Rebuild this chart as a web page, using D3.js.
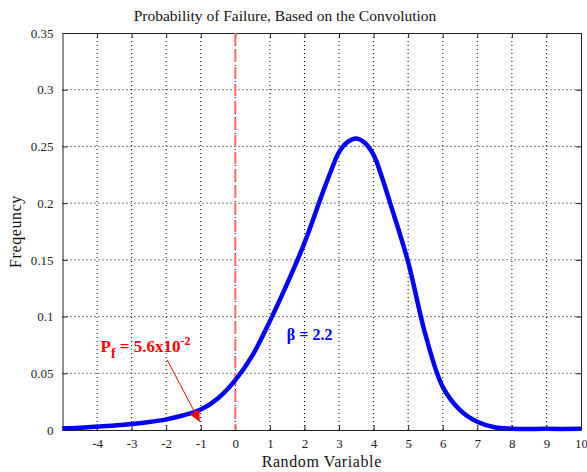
<!DOCTYPE html>
<html><head><meta charset="utf-8">
<script src="https://cdn.jsdelivr.net/npm/d3@7/dist/d3.min.js"></script>
<style>
html,body{margin:0;padding:0;background:#fff;}
svg{display:block;}
text{font-family:"Liberation Serif","Times New Roman",serif;}
</style></head>
<body>
<script>
const xValues = [-5,-4.5,-4,-3.5,-3,-2.5,-2,-1.5,-1,-0.5,0,0.5,1,1.5,2,2.5,2.75,3,3.25,3.5,3.75,4,4.25,4.5,5,5.5,6,6.5,7,7.5,8,9,10];
const freqValues = [0.0015,0.002,0.003,0.004,0.0053,0.007,0.0094,0.013,0.018,0.028,0.044,0.066,0.096,0.129,0.165,0.207,0.227,0.245,0.254,0.257,0.253,0.2425,0.222,0.198,0.148,0.084,0.038,0.0176,0.0073,0.0024,0.0012,0.001,0.001];
const xTicks = [-4,-3,-2,-1,0,1,2,3,4,5,6,7,8,9,10];
const yTicks = [0,0.05,0.1,0.15,0.2,0.25,0.3,0.35];
const yTickLabels = ["0","0.05","0.1","0.15","0.2","0.25","0.3","0.35"];
const limitState = [0];
const pfAnnotation = {x:-3.9, y:0.069, arrowFrom:[-1.97,0.0617], arrowTo:[-1.03,0.0073]};
const betaAnnotation = {x:1.49, y:0.079, text:"β = 2.2"};

const W = 587, H = 472;
const m = {l:62.5, r:6, t:33, b:42};
const svg = d3.select("body").append("svg").attr("width",W).attr("height",H);
const x = d3.scaleLinear().domain([-5,10]).range([m.l, W-m.r]);
const y = d3.scaleLinear().domain([0,0.35]).range([H-m.b, m.t]);
const x0 = m.l, x1 = W-m.r, y0 = H-m.b, y1 = m.t;

// grid
const g = svg.append("g");
g.selectAll(".vg").data(xTicks.filter(d=>d<10)).enter().append("line")
  .attr("x1",d=>x(d)).attr("x2",d=>x(d)).attr("y1",y0).attr("y2",y1)
  .attr("stroke","#000").attr("stroke-width",1).attr("stroke-dasharray","1,3");
g.selectAll(".hg").data(yTicks.filter(d=>d>0&&d<0.35)).enter().append("line")
  .attr("y1",d=>y(d)).attr("y2",d=>y(d)).attr("x1",x0).attr("x2",x1)
  .attr("stroke","#000").attr("stroke-width",1).attr("stroke-dasharray","1,3");

// axes
const xAxB = d3.axisBottom(x).tickValues(xTicks).tickSizeInner(-5).tickSizeOuter(0).tickPadding(9).tickFormat(d=>d);
const xAxT = d3.axisTop(x).tickValues(xTicks).tickSizeInner(-5).tickSizeOuter(0).tickFormat("");
const yAxL = d3.axisLeft(y).tickValues(yTicks).tickSizeInner(-5).tickSizeOuter(0).tickPadding(9).tickFormat((d,i)=>yTickLabels[i]);
const yAxR = d3.axisRight(y).tickValues(yTicks).tickSizeInner(-5).tickSizeOuter(0).tickFormat("");
function style(sel){
  sel.selectAll("path").attr("stroke","#222").attr("stroke-width",1);
  sel.selectAll("line").attr("stroke","#222").attr("stroke-width",1);
  sel.selectAll("text").attr("fill","#222").style("font-size","13px").style("font-family",'"Liberation Serif",serif');
}
svg.append("g").attr("transform",`translate(0,${y0})`).call(xAxB).call(style);
svg.append("g").attr("transform",`translate(0,${y1})`).call(xAxT).call(style);
svg.append("g").attr("transform",`translate(${x0},0)`).call(yAxL).call(style);
svg.append("g").attr("transform",`translate(${x1},0)`).call(yAxR).call(style);

// limit state line
svg.selectAll(".ls").data(limitState).enter().append("line")
  .attr("x1",d=>x(d)).attr("x2",d=>x(d)).attr("y1",y1).attr("y2",y0)
  .attr("stroke","#ff6a6a").attr("stroke-width",2).attr("stroke-dasharray","12,5");

// curve
const data = xValues.map((v,i)=>[v,freqValues[i]]);
svg.append("path").datum(data)
  .attr("d", d3.line().x(d=>x(d[0])).y(d=>y(d[1])).curve(d3.curveCatmullRom.alpha(0.5)))
  .attr("fill","none").attr("stroke","#0000ff").attr("stroke-width",4.5).attr("stroke-linejoin","round");

// arrow
const defs = svg.append("defs");
defs.append("marker").attr("id","ah").attr("viewBox","0 0 10 10").attr("refX",10).attr("refY",5)
  .attr("markerWidth",15).attr("markerHeight",11).attr("markerUnits","userSpaceOnUse").attr("orient","auto")
  .append("path").attr("d","M0,0 L10,5 L0,10 Z").attr("fill","#ff0000");
svg.append("line")
  .attr("x1",x(pfAnnotation.arrowFrom[0])).attr("y1",y(pfAnnotation.arrowFrom[1]))
  .attr("x2",x(pfAnnotation.arrowTo[0])).attr("y2",y(pfAnnotation.arrowTo[1]))
  .attr("stroke","#ff0000").attr("stroke-width",1).attr("marker-end","url(#ah)");

// Pf text
const pf = svg.append("text").attr("x",x(pfAnnotation.x)).attr("y",y(pfAnnotation.y))
  .attr("fill","#ff0000").style("font-size","17px").style("font-weight","bold");
pf.append("tspan").text("P");
pf.append("tspan").attr("dy",6).style("font-size","14px").text("f");
pf.append("tspan").attr("dy",-6).text(" = 5.6x10");
pf.append("tspan").attr("dy",-7).style("font-size","12px").text("-2");

svg.append("text").attr("x",x(betaAnnotation.x)).attr("y",y(betaAnnotation.y))
  .attr("fill","#0000ff").style("font-size","16px").style("font-weight","bold").text(betaAnnotation.text);

// titles
svg.append("text").attr("x",285).attr("y",21).attr("text-anchor","middle")
  .attr("fill","#111").style("font-size","15.5px").text("Probability of Failure, Based on the Convolution");
svg.append("text").attr("x",(x0+x1)/2).attr("y",467).attr("text-anchor","middle")
  .attr("fill","#111").style("font-size","16px").style("letter-spacing","0.6px").text("Random Variable");
svg.append("text").attr("transform",`translate(21,${(y0+y1)/2}) rotate(-90)`).attr("text-anchor","middle")
  .attr("fill","#111").style("font-size","16px").style("letter-spacing","0.6px").text("Freqeuncy");
</script>
</body></html>
